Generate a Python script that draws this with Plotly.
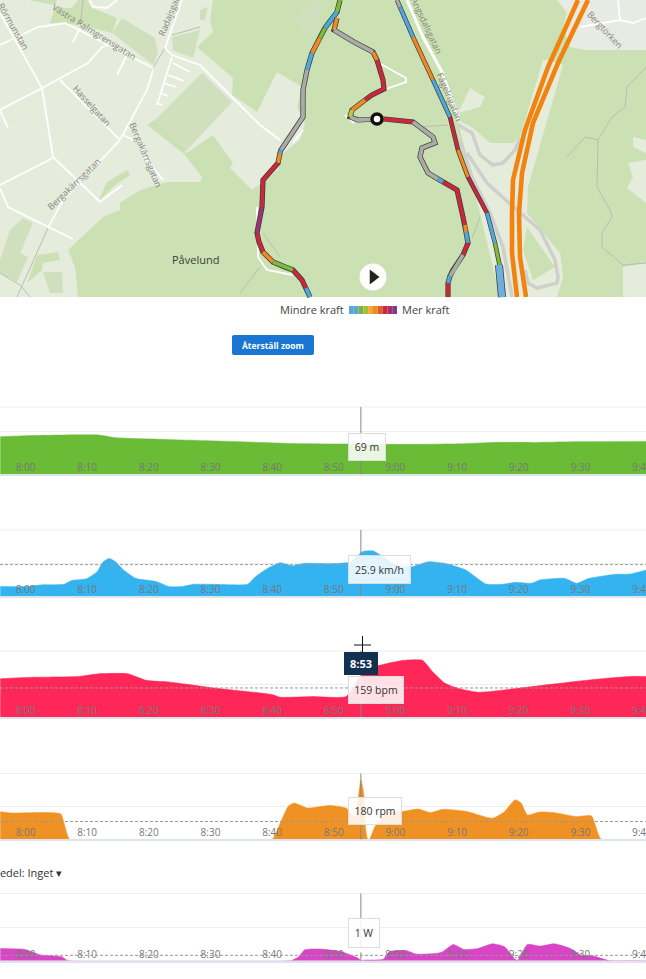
import plotly.graph_objects as go

W, H = 646, 979
FONT = "Open Sans"

# ---------- chart data (minutes after 8:00) ----------
tick_minutes = [0, 10, 20, 30, 40, 50, 60, 70, 80, 90]
tick_labels = ["8:00", "8:10", "8:20", "8:30", "8:40", "8:50", "9:00", "9:10", "9:20", "9:30"]
edge_tick = (100, "9:40")
cursor_minute = 54.4

elev_x = [-4.1, 0, 5.9, 11.9, 14.6, 22.6, 33.3, 42.6, 52, 62.7, 70.7, 76, 82.8, 89.4, 100.7]
elev_y = [86.8, 89.1, 90.7, 90.7, 84.5, 80.6, 75.9, 71.3, 69.8, 69, 70.5, 73.6, 73.6, 75.2, 75.9]

speed_x = [-4.1, 0, 2.5, 6.2, 7.6, 9.9, 11.6, 12.6, 13.6, 14.6, 15.9, 17.9, 21.3, 23.3, 25.3, 27.3, 30.6, 36,
           37.3, 39.3, 41.3, 43.3, 45.3, 49.3, 52.7, 54.7, 56.4, 58, 60, 62.7, 65.4, 68, 71.4, 74.7, 77.4,
           79.4, 82.1, 83.4, 87.4, 89.4, 91.4, 95.5, 98.1, 100.7]
speed_y = [5.7, 5.7, 6.7, 7.1, 9.5, 10.5, 14.7, 20.8, 22.8, 20.8, 15.8, 10.7, 8.7, 5.7, 5.7, 7.1, 7.1, 7.1,
           11.7, 16.8, 20.2, 18.4, 19.8, 19.6, 20.6, 26.9, 27.3, 23.8, 18.8, 17.8, 20.8, 19.8, 15.8, 7.3, 7.1,
           8.3, 7.7, 9.7, 10.7, 7.7, 10.7, 13.1, 13.3, 15.8]

hr_x = [-4.1, 0, 8.6, 11.9, 16.6, 19.6, 23.3, 30.6, 40, 41.3, 46.7, 52, 54.4, 57, 61.4, 64.4, 66, 68, 70,
        73.4, 79.4, 89.4, 93.4, 98.1, 100.7]
hr_y = [116, 120, 123, 131, 131, 111, 106, 88, 68, 60, 62, 62, 125, 154, 172, 172, 138, 103, 88,
        75, 86, 108, 116, 123, 123]

cad_x = [-4.1, -2.1, 5.7, 6.4, 7.2, 40, 41.3, 42.6, 43.6, 45.7, 49.3, 52, 53.3, 54, 54.4, 54.9, 55.2, 55.5,
         55.8, 56.7, 58.7, 61, 63.7, 65.7, 67.7, 71.7, 75.7, 77.7, 79.4, 80.4, 81.4, 83.4, 85.8, 89.4, 91.8,
         93.4, 100.7]
cad_y = [84, 80, 77, 39, 0, 0, 49, 100, 110, 95, 103, 95, 69, 130, 181, 135, 28, 0,
         0, 39, 81, 84, 92, 81, 91, 84, 64, 84, 120, 110, 74, 83, 81, 69, 71,
         0, 0]

pow_x = [-4.1, -0.1, 2.5, 5.9, 6.9, 43, 44.3, 45.3, 48, 51.3, 54, 54.4, 55, 58, 59, 61.7, 63.4, 67.4, 69.4,
         71.1, 73.4, 75.7, 77.7, 79.4, 79.9, 81.4, 83.4, 85.8, 88.4, 90.1, 92.1, 94.8, 100.7]
pow_y = [182, 168, 84, 59, 0, 0, 59, 163, 173, 133, 35, 0, 10, 20, 133, 153, 99, 123, 242,
         168, 182, 251, 207, 20, 10, 242, 217, 251, 182, 84, 69, 0, 0]

# name, x, y, colour, y max, grid value, average, top px, bottom px, tooltip, box left/right/top/bottom
panels = [
    ("Höjd", elev_x, elev_y, "#6ABB35", 156, 100, None, 407, 474, "69 m", 348, 386, 433, 461),
    ("Fart", speed_x, speed_y, "#34B3F1", 40, 20, 19, 530, 596, "25.9 km/h", 348, 411, 555, 584),
    ("Puls", hr_x, hr_y, "#FF2757", 200, 100, 88, 651, 717, "159 bpm", 348, 404, 676, 704),
    ("Kadens", cad_x, cad_y, "#F09223", 200, 100, 54, 773.5, 839.3, "180 rpm", 348, 402, 797, 825),
    ("Effekt", pow_x, pow_y, "#D845C6", 1000, 500, 80, 893.5, 960.7, "1 W", 348, 380, 918, 948),
]

# ---------- map data (picture positions) ----------
LAND = "#E6ECDC"
FOREST = "#CBE1B3"
FIELD = "#D0E0BE"

forest_main = [(213, 0), (210, 20), (213, 32), (197, 47), (233, 78), (232, 95), (257, 112), (277, 72), (302, 87),
               (297, 107), (305, 123), (300, 140), (283, 153), (278, 170), (252, 190), (230, 168), (233, 163),
               (213, 135), (188, 152), (183, 153), (202, 177), (200, 182), (167, 182), (140, 190), (120, 203),
               (120, 210), (103, 217), (68, 250), (75, 267), (78, 297), (646, 297), (646, 0)]
forest_patches = [
    [(50, 23), (55, 7), (72, 8), (78, 0), (87, 0), (92, 8), (117, 18), (112, 33), (80, 25)],
    [(28, 0), (57, 0), (55, 5)],
    [(147, 125), (155, 120), (187, 150), (183, 153)],
    [(100, 197), (107, 182), (127, 170), (130, 175), (113, 187), (100, 200)],
    [(37, 255), (58, 252), (60, 260), (43, 263), (42, 270), (27, 283)],
]
light_patches = [
    [(458, 113), (470, 88), (485, 97), (480, 107)],
    [(458, 120), (473, 128), (490, 143), (513, 143), (520, 137), (543, 60), (548, 60), (563, 65), (528, 187),
     (527, 213), (560, 253), (563, 277), (557, 297), (500, 297), (480, 213)],
    [(633, 137), (646, 140), (646, 153), (633, 147)],
    [(628, 163), (646, 160), (646, 203), (627, 188), (633, 177)],
    [(623, 267), (646, 263), (646, 297), (623, 297)],
]
grey_land = [(557, 0), (567, 13), (563, 27), (570, 47), (585, 50), (646, 50), (646, 0)]
inner_forest = [[(527, 227), (555, 267), (533, 280), (523, 250)]]
field_patches = [
    [(202, 73), (232, 102), (187, 150), (155, 120)],
    [(122, 18), (155, 38), (158, 53), (153, 65), (112, 33)],
    [(172, 37), (200, 30), (197, 42), (193, 58), (173, 50)],
    [(200, 10), (208, 7), (205, 20), (200, 20)],
    [(10, 230), (23, 218), (33, 223), (20, 253), (28, 257), (17, 282), (0, 273), (0, 260)],
    [(43, 272), (62, 272), (63, 293), (50, 293)],
    [(292, 20), (313, 0), (320, 0), (320, 28), (310, 37)],
]
white_roads = [
    [(0, 13), (42, 88), (53, 157), (100, 202), (122, 185)],
    [(0, 45), (38, 27), (65, 23), (153, 68)],
    [(153, 70), (147, 90), (120, 140), (63, 200), (48, 228)],
    [(182, 0), (165, 48)],
    [(165, 48), (172, 55), (200, 65), (260, 125), (280, 140)],
    [(0, 110), (42, 88), (88, 63), (102, 47), (110, 45)],
    [(60, 80), (120, 140)],
    [(0, 185), (53, 158)],
    [(0, 188), (8, 207), (73, 239)],
    [(172, 57), (157, 105)],
    [(173, 63), (190, 72)],
    [(168, 75), (184, 81)],
    [(163, 83), (176, 87)],
    [(160, 93), (168, 96)],
    [(156, 103), (162, 105)],
    [(127, 55), (117, 75)],
    [(80, 28), (73, 42)],
    [(0, 110), (8, 128)],
    [(123, 135), (137, 142), (147, 160), (163, 180)],
    [(90, 0), (93, 7), (107, 8), (117, 0)],
    [(257, 207), (258, 257), (267, 270), (293, 275)],
    [(303, 130), (293, 143)],
    [(379, 63), (406, 78), (406, 82), (383, 90)],
    [(345, 115), (354, 123)],
    [(414, 125), (428, 135)],
    [(618, 0), (620, 20), (633, 23), (646, 18)],
    [(580, 27), (620, 20)],
]
main_road = [(407, 0), (423, 37), (442, 72), (453, 103), (460, 120)]
thin_gray = [
    [(165, 48), (153, 68)],
    [(83, 0), (80, 28)],
    [(48, 228), (17, 297)],
    [(172, 35), (200, 27)],
    [(263, 233), (280, 257)],
    [(260, 267), (240, 293)],
    [(0, 273), (20, 285), (30, 297)],
    [(567, 157), (585, 137), (598, 140), (612, 117), (625, 107), (627, 87), (646, 67)],
    [(598, 140), (597, 187), (610, 210), (612, 217), (602, 233), (602, 247), (623, 265), (646, 263)],
    [(420, 127), (448, 125)],
    [(480, 217), (472, 238)],
]
gray_roads = [
    [(458, 125), (472, 133), (480, 155), (493, 165), (503, 163), (515, 150), (520, 138)],
    [(467, 153), (487, 183), (508, 202), (525, 217), (540, 230), (555, 260), (558, 277), (557, 283), (537, 288),
     (528, 283), (525, 270)],
    [(460, 140), (472, 177), (490, 213), (503, 247), (512, 297)],
]
highway_a = [(578, 0), (548, 67), (525, 130), (513, 180), (512, 213), (512, 253), (517, 297)]
highway_b = [(588, 0), (558, 63), (533, 123), (522, 173), (519, 213), (520, 257), (526, 297)]

C = {"G": "#ABABA7", "R": "#C8283C", "O": "#F08A24", "B": "#4FA8DC", "L": "#7DBB3A", "Y": "#C6C93A", "P": "#9A3470"}
route_west = [(340, 0), (337, 12), (325, 28), (320, 38), (312, 53), (307, 70), (303, 90), (303, 117), (287, 140),
              (281, 150), (280, 153), (278, 163), (263, 180), (262, 207), (257, 233), (259, 242), (263, 252),
              (273, 262), (285, 267), (293, 270), (302, 280), (306, 288), (310, 297)]
route_west_c = "LBLOBGGGGBORRPRROLLRRBG"
route_mid = [(337, 18), (334, 30), (354, 42), (373, 52), (377, 60), (379, 67), (383, 80), (384, 89), (372, 95), (365, 100),
             (352, 110), (350, 117), (358, 120), (377, 119), (384, 119), (413, 122), (433, 137), (435, 143), (422, 148),
             (420, 157), (428, 173), (438, 179), (443, 182), (457, 190), (463, 217), (465, 225), (466, 232),
             (468, 243), (463, 255), (453, 270), (450, 276), (448, 283), (448, 297)]
route_mid_c = "OGGORRRRROYGGORGGGGGGBRRROBRGGBRR"
route_east = [(397, 0), (400, 7), (413, 37), (433, 80), (450, 117), (458, 150), (468, 177), (487, 213), (495, 243),
              (500, 267), (502, 297)]
route_east_c = "GBOBRORBLB"
route_east_end = [(499, 265), (502, 297)]

legend_colors = ["#5AA7DC", "#5CA9CC", "#74B54A", "#A3BE3A", "#EFA83A", "#F08A24", "#E05A30", "#C8283C", "#A83060", "#7A3F8A"]
rider_pos = [(377, 119)]
play_pos = [(373, 277)]

map_labels = [
    ("Rörmunstan", 14, 26, 60, 9),
    ("Västra Palmgrensgatan", 94, 31, 32, 9),
    ("Radajsgatan", 170, 12, -68, 9),
    ("Hasselgatan", 92, 105, 48, 9),
    ("Bergakärrsgatan", 146, 154, 67, 9),
    ("Bergakärrsgatan", 73, 184, -44, 9),
    ("Ängsdalsgatan", 427, 25, 65, 9),
    ("Fågelrigatan", 450, 96, 67, 9),
    ("Bergtörken", 605, 29, 47, 9),
]

# ---------- figure ----------
fig = go.Figure()
PX = dict(xaxis="x", yaxis="y", hoverinfo="skip", showlegend=False)


def poly(pts, color):
    fig.add_trace(go.Scatter(x=[p[0] for p in pts], y=[p[1] for p in pts], mode="lines", fill="toself",
                             fillcolor=color, line=dict(width=0, color=color), **PX))


def path(pts, color, width):
    fig.add_trace(go.Scatter(x=[p[0] for p in pts], y=[p[1] for p in pts], mode="lines",
                             line=dict(color=color, width=width), **PX))


poly([(0, 0), (W, 0), (W, 297), (0, 297)], LAND)
poly(forest_main, FOREST)
for p in forest_patches:
    poly(p, FOREST)
for p in light_patches:
    poly(p, LAND)
poly(grey_land, "#E8EAE4")
for p in inner_forest:
    poly(p, FOREST)
for p in field_patches:
    poly(p, FIELD)
for r in thin_gray:
    path(r, "#B9BDB2", 1)
for r in white_roads:
    path(r, "#FFFFFF", 1.8)
path(main_road, "#FFFFFF", 3)
for r in gray_roads:
    path(r, "#CFD0CC", 3.6)
path(highway_a, "#F2830E", 4.6)
path(highway_b, "#F2830E", 4.6)


def route(pts, codes, casing):
    path(pts, "#3A3A3A", casing)
    i = 0
    while i < len(pts) - 1:
        code = codes[min(i, len(codes) - 1)]
        j = i + 1
        while j < len(pts) - 1 and codes[min(j, len(codes) - 1)] == code:
            j += 1
        path(pts[i:j + 1], C[code], casing - 1.4)
        i = j


route(route_east, route_east_c, 4.6)
path(route_east_end, "#3A3A3A", 8)
path(route_east_end, "#6DB0E0", 6.5)
route(route_west, route_west_c, 5.2)
route(route_mid, route_mid_c, 5.2)

fig.add_trace(go.Scatter(x=[p[0] for p in rider_pos], y=[p[1] for p in rider_pos], mode="markers",
                         marker=dict(size=10, color="white", line=dict(color="#111111", width=3.5)), **PX))
fig.add_trace(go.Scatter(x=[p[0] for p in play_pos], y=[p[1] for p in play_pos], mode="markers",
                         marker=dict(size=27, color="white", opacity=0.95), **PX))
fig.add_trace(go.Scatter(x=[p[0] for p in play_pos], y=[p[1] for p in play_pos], mode="markers",
                         marker=dict(size=13, symbol="triangle-right", color="#222222"), **PX))

# power legend strip
for k, col in enumerate(legend_colors):
    x0 = 349 + 4.8 * k
    path([(x0, 310), (x0 + 4.8, 310)], col, 8)

layout = dict(
    width=W, height=H, margin=dict(l=0, r=0, t=0, b=0), paper_bgcolor="white", plot_bgcolor="rgba(0,0,0,0)",
    showlegend=False, font=dict(family=FONT, color="#444444"),
    xaxis=dict(domain=[0, 1], range=[0, W], visible=False, fixedrange=True),
    yaxis=dict(domain=[0, 1], range=[H, 0], visible=False, fixedrange=True),
)
shapes = []
annotations = []


def px_text(text, x, y, size=11, color="#444444", angle=0, anchor="center", bold=False):
    annotations.append(dict(text=f"<b>{text}</b>" if bold else text, x=x, y=y, xref="x", yref="y", showarrow=False,
                            textangle=angle, xanchor=anchor, yanchor="middle",
                            font=dict(size=size, color=color, family=FONT)))


for t, x, y, a, s in map_labels:
    px_text(t, x, y, s, "#85857D", a)
px_text("Påvelund", 195, 259, 11, "#3C3C3C")
px_text("Mindre kraft", 346, 309.5, 11, "#444444", anchor="right")
px_text("Mer kraft", 400, 309.5, 11, "#444444", anchor="left")
px_text("Medel: Inget ▾", 64, 872, 11, "#333333", anchor="right")

# reset button
shapes.append(dict(type="path", xref="x", yref="y", fillcolor="#1976D2", line=dict(width=0), layer="above",
                   path="M 234,335 L 312,335 Q 314,335 314,337 L 314,353 Q 314,355 312,355 L 234,355 "
                        "Q 232,355 232,353 L 232,337 Q 232,335 234,335 Z"))
px_text("Återställ zoom", 273, 345, 8.5, "#FFFFFF", bold=True)

x_range = [-4.14, 100.65]
for n, (name, xs, ys, col, ymax, grid, avg, top, bot, tip, bl, br, bt, bb) in enumerate(panels):
    i = n + 2
    fig.add_trace(go.Scatter(x=xs, y=ys, name=name, mode="lines", fill="tozeroy", fillcolor=col,
                             line=dict(color=col, width=0.5, shape="spline", smoothing=0.5),
                             xaxis=f"x{i}", yaxis=f"y{i}", hoverinfo="skip", showlegend=False))
    layout[f"xaxis{i}"] = dict(
        domain=[0, 1], range=x_range, anchor=f"y{i}", tickmode="array", tickvals=tick_minutes, ticktext=tick_labels,
        ticklabelposition="inside", ticks="", showgrid=False, zeroline=False, showline=True, linecolor="#DDE4EA",
        linewidth=2, tickfont=dict(size=10, color="#777777", family=FONT), fixedrange=True)
    layout[f"yaxis{i}"] = dict(
        domain=[1 - bot / H, 1 - top / H], range=[0, ymax], anchor=f"x{i}", tickmode="array", tickvals=[grid],
        showticklabels=False, ticks="", showgrid=True, gridcolor="#EEEEEE", gridwidth=1, zeroline=False,
        showline=False, fixedrange=True)
    shapes.append(dict(type="line", xref=f"x{i} domain", yref=f"y{i} domain", x0=0, x1=1, y0=1, y1=1,
                       line=dict(color="#EEEEEE", width=1), layer="below"))
    shapes.append(dict(type="line", xref=f"x{i}", yref=f"y{i} domain", x0=cursor_minute, x1=cursor_minute, y0=0, y1=1,
                       line=dict(color="#888880", width=1), layer="above"))
    if avg is not None:
        shapes.append(dict(type="line", xref=f"x{i} domain", yref=f"y{i}", x0=0, x1=1, y0=avg, y1=avg,
                           line=dict(color="#999999", width=1, dash="3px,2px"), layer="above"))
    annotations.append(dict(text=edge_tick[1], x=edge_tick[0], y=bot - 7, xref=f"x{i}", yref="y", showarrow=False,
                            xanchor="center", yanchor="middle", font=dict(size=10, color="#777777", family=FONT)))
    annotations.append(dict(text=tip, x=(bl + br) / 2, y=(bt + bb) / 2, xref="x", yref="y", showarrow=False,
                            width=br - bl - 2, height=bb - bt - 2, bgcolor="rgba(255,255,255,0.86)",
                            bordercolor="#DDDDDD", borderwidth=1, borderpad=0, align="center", valign="middle",
                            font=dict(size=10.5, color="#333333", family=FONT)))

# pointer under the power tooltip
shapes.append(dict(type="path", xref="x", yref="y", fillcolor="#FFFFFF", line=dict(width=0), layer="above",
                   path="M 356,947 L 366,947 L 361,953 Z"))

# cursor cross + time badge
shapes.append(dict(type="line", xref="x", yref="y", x0=354, x1=371, y0=645, y1=645, line=dict(color="#111111", width=1), layer="above"))
shapes.append(dict(type="line", xref="x", yref="y", x0=362.5, x1=362.5, y0=636, y1=653, line=dict(color="#111111", width=1), layer="above"))
shapes.append(dict(type="rect", xref="x", yref="y", x0=344, x1=378, y0=652, y1=675, fillcolor="#12304F", line=dict(width=0), layer="above"))
px_text("8:53", 361, 663.5, 11, "#FFFFFF", bold=True)

layout["shapes"] = shapes
layout["annotations"] = annotations
fig.update_layout(**layout)
fig.write_html("out.html", config=dict(displayModeBar=False),
               post_script="document.body.style.margin='0';document.documentElement.style.overflow='hidden';")
